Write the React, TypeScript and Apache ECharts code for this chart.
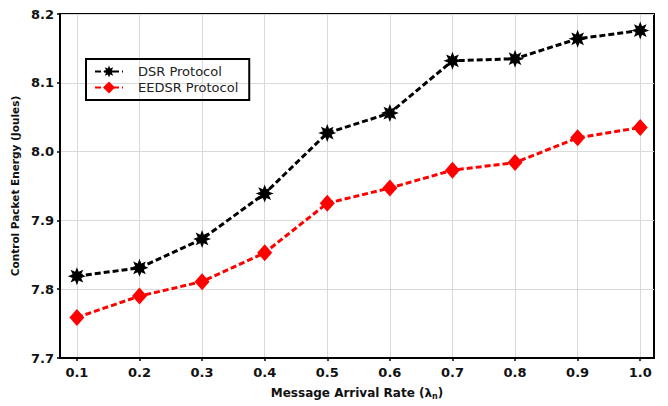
import React, { useEffect, useRef } from "react";
import * as echarts from "echarts";

const RATES = [0.1, 0.2, 0.3, 0.4, 0.5, 0.6, 0.7, 0.8, 0.9, 1.0];
const DSR = [7.819, 7.831, 7.873, 7.939, 8.027, 8.056, 8.132, 8.135, 8.164, 8.176];
const EEDSR = [7.759, 7.790, 7.811, 7.853, 7.925, 7.947, 7.973, 7.984, 8.020, 8.035];
const Y_MIN = 7.7;
const Y_MAX = 8.2;
const X_MIN = 0.073;
const X_MAX = 1.022;

function starPath(): string {
  const pts: string[] = [];
  const n = 8;
  for (let i = 0; i < n * 2; i++) {
    const r = i % 2 === 0 ? 10 : 5.2;
    const a = (Math.PI * i) / n - Math.PI / 2;
    pts.push(`${(r * Math.cos(a)).toFixed(2)} ${(r * Math.sin(a)).toFixed(2)}`);
  }
  return "path://M" + pts.join(" L") + " Z";
}

export default function App() {
  const ref = useRef<HTMLDivElement>(null);
  useEffect(() => {
    if (!ref.current) return;
    const chart = echarts.init(ref.current, undefined, { renderer: "svg" });
    const font = "DejaVu Sans";
    const star = starPath();
    chart.setOption({
      animation: false,
      backgroundColor: "#fff",
      textStyle: { fontFamily: font },
      grid: {
        left: 60,
        right: 14,
        top: 14,
        bottom: 48,
        show: true,
        borderColor: "#000",
        borderWidth: 2,
        backgroundColor: "transparent",
      },
      legend: {
        orient: "vertical",
        left: 86,
        top: 59,
        align: "left",
        borderColor: "#000",
        borderWidth: 2,
        padding: [6, 11, 6, 8],
        itemGap: 3,
        itemWidth: 28,
        itemHeight: 15,
        itemTextGap: 15,
        textStyle: { fontFamily: font, fontSize: 13, color: "#222", padding: [0, 0, 0, 10] },
        data: ["DSR Protocol", "EEDSR Protocol"],
      },
      xAxis: {
        type: "value",
        min: X_MIN,
        max: X_MAX,
        name: "Message Arrival Rate (λ{sub|n})",
        nameLocation: "middle",
        nameGap: 28,
        nameTextStyle: {
          fontFamily: font,
          fontWeight: "bold",
          fontSize: 12,
          color: "#111",
          rich: { sub: { fontSize: 8, fontWeight: "bold", verticalAlign: "bottom", padding: [6, 0, 0, 0], fontFamily: font, color: "#111" } },
        },
        axisLine: { show: true, lineStyle: { color: "#000", width: 2 } },
        axisTick: { show: true, customValues: RATES, length: 3, lineStyle: { color: "#000", width: 1.5 } },
        axisLabel: {
          customValues: RATES,
          formatter: (v: number) => v.toFixed(1),
          fontFamily: font,
          fontWeight: "bold",
          fontSize: 13,
          color: "#111",
          margin: 8,
        },
        splitLine: { show: true, lineStyle: { color: "#d9d9d9", width: 1 } },
      },
      yAxis: {
        type: "value",
        min: Y_MIN,
        max: Y_MAX,
        interval: 0.1,
        name: "Control Packet Energy (Joules)",
        nameLocation: "middle",
        nameGap: 36,
        nameTextStyle: { fontFamily: font, fontWeight: "bold", fontSize: 10.5, color: "#111" },
        axisLine: { show: true, lineStyle: { color: "#000", width: 2 } },
        axisTick: { show: true, length: 3, lineStyle: { color: "#000", width: 1.5 } },
        axisLabel: {
          formatter: (v: number) => v.toFixed(1),
          fontFamily: font,
          fontWeight: "bold",
          fontSize: 13,
          color: "#111",
          margin: 6,
        },
        splitLine: { show: true, lineStyle: { color: "#d9d9d9", width: 1 } },
      },
      series: [
        {
          name: "DSR Protocol",
          type: "line",
          data: RATES.map((x, i) => [x, DSR[i]]),
          symbol: star,
          symbolSize: 18,
          itemStyle: { color: "#000" },
          lineStyle: { color: "#000", width: 3, type: [6, 3] },
          z: 3,
        },
        {
          name: "EEDSR Protocol",
          type: "line",
          data: RATES.map((x, i) => [x, EEDSR[i]]),
          symbol: "diamond",
          symbolSize: [15, 17],
          itemStyle: { color: "#f00" },
          lineStyle: { color: "#f00", width: 3, type: [6, 3] },
          z: 3,
        },
      ],
    });
    return () => chart.dispose();
  }, []);
  return (
    <div
      ref={ref}
      style={{ position: "fixed", left: 0, top: 0, width: 668, height: 406, background: "#fff" }}
    />
  );
}
